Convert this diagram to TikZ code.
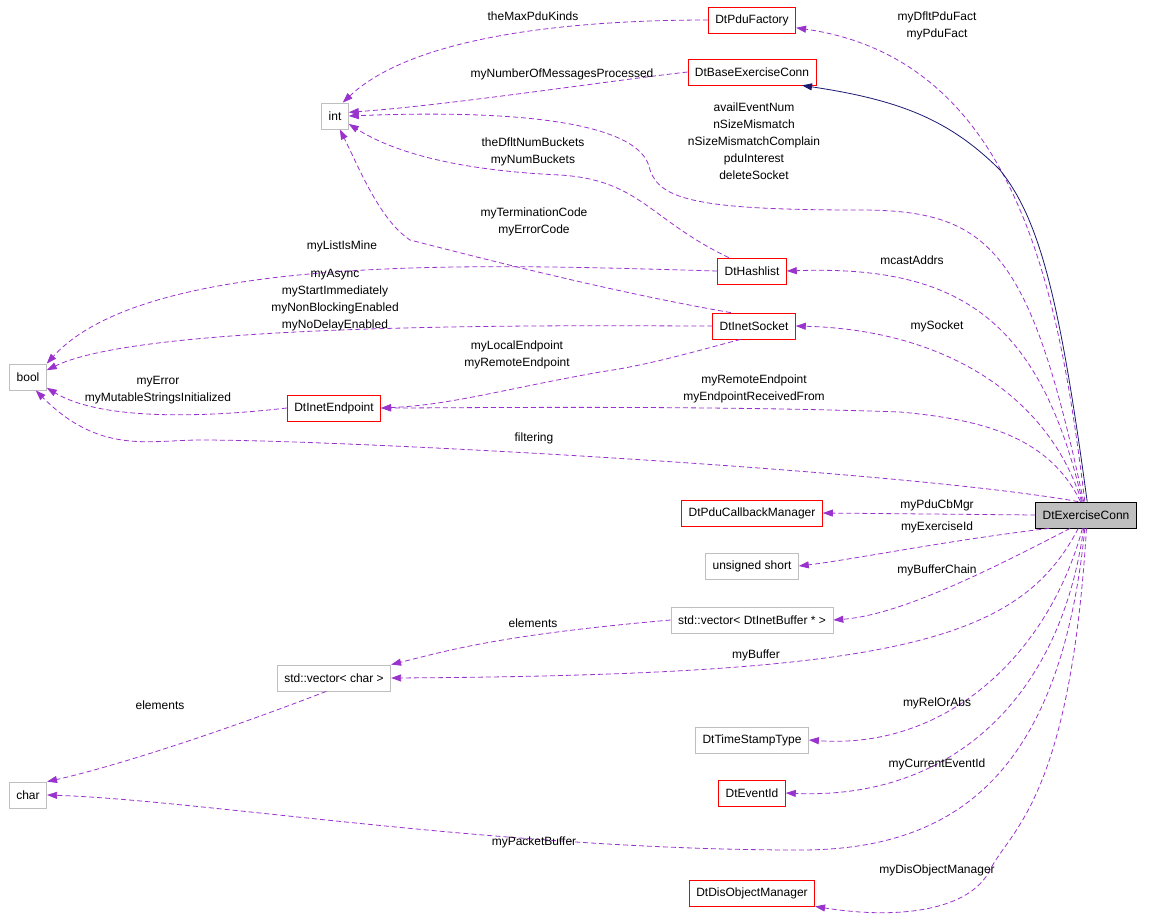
\documentclass[tikz,border=0pt]{standalone}
\usepackage{fontspec}
\setmainfont{Liberation Sans}
\usetikzlibrary{arrows.meta}
\definecolor{dep}{HTML}{9A32CD}
\definecolor{inh}{HTML}{191970}
\definecolor{rb}{HTML}{FF0000}
\definecolor{gb}{HTML}{BFBFBF}
\begin{document}
\begin{tikzpicture}[x=1pt,y=-1pt,font=\fontsize{12}{16}\selectfont,
  box/.style={draw=#1,fill=white,minimum height=26pt,inner xsep=7pt,line width=0.8pt},
  red/.style={box=rb},
  gray/.style={box=gb},
  dep/.style={draw=dep,dash pattern=on 5pt off 3pt,line width=0.8pt,-{Triangle[length=10pt,width=7pt,fill=dep]}},
  lab/.style={align=center,inner sep=0pt,font=\fontsize{12}{17}\selectfont}]
\useasboundingbox (0,0) rectangle (1152,924);
\node[red] (pf) at (752,20) {DtPduFactory};
\node[red] (bec) at (752,72) {DtBaseExerciseConn};
\node[gray] (int) at (335,116) {int};
\node[red] (hl) at (752,271) {DtHashlist};
\node[red] (sock) at (754,326) {DtInetSocket};
\node[gray] (bool) at (28,377) {bool};
\node[red] (ie) at (334,408) {DtInetEndpoint};
\node[box=black,fill={rgb,255:red,191;green,191;blue,191}] (ex) at (1086,515) {DtExerciseConn};
\node[red] (pcm) at (752,513) {DtPduCallbackManager};
\node[gray] (us) at (752,566) {unsigned short};
\node[gray] (vib) at (752,620) {std::vector< DtInetBuffer * >};
\node[gray] (vc) at (334,678) {std::vector< char >};
\node[gray] (tst) at (752,740) {DtTimeStampType};
\node[gray] (ch) at (28,795) {char};
\node[red] (ei) at (752,793) {DtEventId};
\node[red] (dom) at (752,893) {DtDisObjectManager};

\draw[dep] (ex.95) .. controls (1060,300) and (1020,60) .. (pf.-10);
\draw[dep] (ex.100) .. controls (1030,250) and (990,210) .. (860,210) .. controls (700,210) and (660,200) .. (650,170) .. controls (640,110) and (450,112) .. (int.east);
\draw[dep] (hl.150) .. controls (650,220) and (640,180) .. (560,175) .. controls (450,170) and (390,150) .. (int.-30);
\draw[dep] (sock.150) .. controls (600,290) and (450,250) .. (410,240) .. controls (380,220) and (360,170) .. (int.-70);
\draw[dep] (pf.west) .. controls (600,20) and (420,30) .. (int.60);
\draw[dep] (bec.west) .. controls (600,82) and (450,105) .. (int.15);
\draw[dep] (ex.105) .. controls (1040,320) and (960,265) .. (hl.east);
\draw[dep] (hl.west) .. controls (500,265) and (150,250) .. (bool.north east);
\draw[dep] (ex.108) .. controls (1050,400) and (950,330) .. (sock.east);
\draw[dep] (sock.west) .. controls (600,326) and (150,320) .. (bool.20);
\draw[dep] (sock.225) .. controls (700,350) and (650,365) .. (600,372) .. controls (500,390) and (450,405) .. (ie.east);
\draw[dep] (ex.112) .. controls (1050,440) and (990,420) .. (900,412) .. controls (700,405) and (450,408) .. (ie.east);
\draw[dep] (ie.west) .. controls (200,418) and (100,420) .. (bool.-30);
\draw[dep] (ex.120) .. controls (900,470) and (350,440) .. (200,440) .. controls (150,440) and (100,455) .. (bool.-60);
\draw[dep] (ex.west) -- (pcm.east);
\draw[dep] (ex.-160) .. controls (950,540) and (850,560) .. (us.east);
\draw[dep] (ex.-140) .. controls (990,570) and (900,615) .. (vib.east);
\draw[dep] (vib.west) .. controls (500,635) and (450,650) .. (vc.north east);
\draw[dep] (ex.-120) .. controls (1020,640) and (900,675) .. (vc.east);
\draw[dep] (vc.-120) .. controls (200,740) and (100,770) .. (ch.north east);
\draw[dep] (ex.-105) .. controls (1050,650) and (950,750) .. (tst.east);
\draw[dep] (ex.-100) .. controls (1060,700) and (950,800) .. (ei.east);
\draw[dep] (ex.-95) .. controls (1060,780) and (950,850) .. (800,850) .. controls (500,850) and (200,800) .. (ch.east);
\draw[dep] (ex.-88) .. controls (1070,800) and (1010,830) .. (990,870) .. controls (970,910) and (900,920) .. (dom.south east);
\draw[draw=inh,line width=0.8pt,-{Triangle[length=10pt,width=7pt,fill=inh]}] (ex.85) .. controls (1060,300) and (1040,220) .. (1000,170) .. controls (950,120) and (900,100) .. (bec.-15);

\node[lab] (l1) at (937,26) {myDfltPduFact\\myPduFact};
\node[lab] (l2) at (754,141) {availEventNum\\nSizeMismatch\\nSizeMismatchComplain\\pduInterest\\deleteSocket};
\node[lab] (l3) at (533,152) {theDfltNumBuckets\\myNumBuckets};
\node[lab] (l4) at (534,222) {myTerminationCode\\myErrorCode};
\node[lab] (l5) at (533,16) {theMaxPduKinds};
\node[lab] (l6) at (562,74) {myNumberOfMessagesProcessed};
\node[lab] (l7) at (912,260) {mcastAddrs};
\node[lab] (l8) at (342,246) {myListIsMine};
\node[lab] (l9) at (937,326) {mySocket};
\node[lab] (l10) at (335,300) {myAsync\\myStartImmediately\\myNonBlockingEnabled\\myNoDelayEnabled};
\node[lab] (l11) at (517,355) {myLocalEndpoint\\myRemoteEndpoint};
\node[lab] (l12) at (754,389) {myRemoteEndpoint\\myEndpointReceivedFrom};
\node[lab] (l13) at (158,390) {myError\\myMutableStringsInitialized};
\node[lab] (l14) at (534,438) {filtering};
\node[lab] (l15) at (937,505) {myPduCbMgr};
\node[lab] (l16) at (937,527) {myExerciseId};
\node[lab] (l17) at (937,570) {myBufferChain};
\node[lab] (l18) at (533,623) {elements};
\node[lab] (l19) at (756,655) {myBuffer};
\node[lab] (l20) at (160,705) {elements};
\node[lab] (l21) at (937,703) {myRelOrAbs};
\node[lab] (l22) at (937,764) {myCurrentEventId};
\node[lab] (l23) at (534,842) {myPacketBuffer};
\node[lab] (l24) at (937,870) {myDisObjectManager};
\end{tikzpicture}
\end{document}
